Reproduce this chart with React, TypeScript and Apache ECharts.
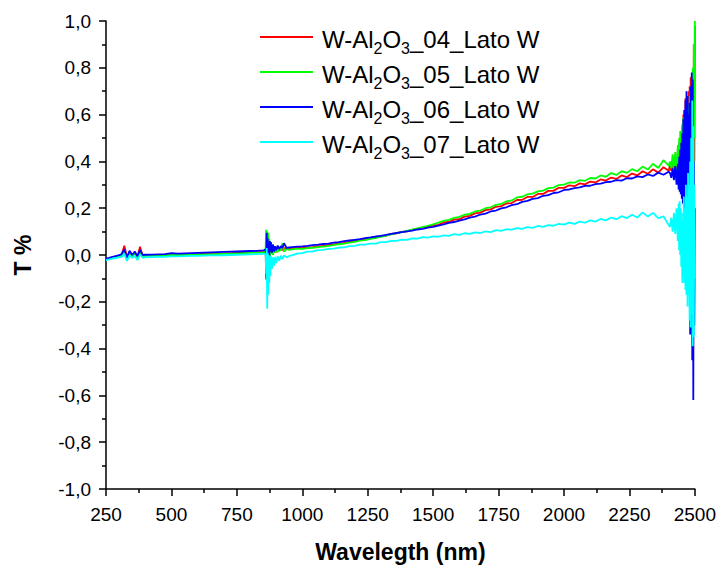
import React, { useEffect, useRef } from "react";
import * as echarts from "echarts";

const seriesNames = [
  "W-Al2O3_04_Lato W",
  "W-Al2O3_05_Lato W",
  "W-Al2O3_06_Lato W",
  "W-Al2O3_07_Lato W",
];
const seriesColors = ["#FF0000", "#00FF00", "#0000FF", "#00FFFF"];

const xTicks = [250, 500, 750, 1000, 1250, 1500, 1750, 2000, 2250, 2500];

// Wavelength (nm)
const wavelengths = [
  250, 262, 275, 290, 300, 310, 320, 330, 340, 350, 360, 370, 380, 390, 400, 425, 450, 475, 500, 525, 550, 575, 600, 625, 650, 675, 700, 725, 750, 775, 800, 825, 850,
  856, 860, 862, 864, 866, 868, 870, 872, 874, 876, 878, 880, 884, 888, 892, 896, 900, 906, 912, 918, 924, 930, 940, 950,
  960, 980, 1000, 1020, 1040, 1060, 1080, 1100, 1120, 1140, 1160, 1180, 1200, 1220, 1240, 1260, 1280, 1300, 1320, 1340, 1360, 1380, 1400, 1420, 1440, 1460, 1480, 1500, 1520, 1540, 1560, 1580, 1600, 1620, 1640, 1660, 1680, 1700, 1720, 1740, 1760, 1780, 1800, 1820, 1840, 1860, 1880, 1900, 1920, 1940, 1960, 1980, 2000, 2020, 2040, 2060, 2080, 2100, 2120, 2140, 2160, 2180, 2200, 2220, 2240, 2260, 2280, 2300, 2320, 2340, 2360, 2380, 2400,
  2405, 2410, 2415, 2420, 2425, 2430, 2435, 2438, 2440, 2442, 2444, 2446, 2448, 2450, 2452, 2454, 2456, 2458, 2460, 2462, 2464, 2466, 2468, 2470, 2472, 2474, 2476, 2478, 2480, 2482, 2484, 2486, 2488, 2490, 2492, 2494, 2496, 2498, 2500,
];

const t04 = [
  -0.018, -0.015, -0.010, -0.006, -0.004, 0.002, 0.040, -0.008, 0.012, -0.002, 0.008, -0.010, 0.035, -0.004, -0.002, -0.001, 0.000, 0.000, 0.002, 0.002, 0.003, 0.004, 0.004, 0.005, 0.006, 0.006, 0.007, 0.008, 0.009, 0.010, 0.011, 0.012, 0.013,
  0.014, 0.020, -0.105, 0.060, -0.050, 0.080, -0.030, 0.050, -0.020, 0.060, 0.010, 0.040, 0.005, 0.035, 0.010, 0.030, 0.012, 0.030, 0.018, 0.032, 0.020, 0.030, 0.024, 0.027,
  0.027, 0.031, 0.029, 0.033, 0.034, 0.038, 0.039, 0.043, 0.045, 0.050, 0.052, 0.057, 0.059, 0.065, 0.067, 0.073, 0.075, 0.081, 0.083, 0.090, 0.092, 0.099, 0.101, 0.108, 0.111, 0.118, 0.120, 0.127, 0.129, 0.139, 0.141, 0.151, 0.153, 0.164, 0.167, 0.178, 0.181, 0.192, 0.195, 0.206, 0.209, 0.220, 0.222, 0.235, 0.236, 0.248, 0.248, 0.261, 0.261, 0.274, 0.274, 0.287, 0.287, 0.298, 0.294, 0.306, 0.302, 0.314, 0.310, 0.323, 0.318, 0.331, 0.325, 0.340, 0.333, 0.348, 0.340, 0.358, 0.347, 0.366, 0.352, 0.375, 0.360,
  0.385, 0.36, 0.40, 0.35, 0.42, 0.33, 0.45, 0.30, 0.48, 0.32, 0.50, 0.28, 0.52, 0.30, 0.55, 0.24, 0.60, 0.27, 0.62, 0.30, 0.67, 0.25, 0.66, 0.20, 0.65, 0.15, 0.70, 0.10, 0.72, 0.05, 0.76, 0.00, 0.74, -0.10, 0.70, 0.20, 0.90, 0.40, 0.98,
];

const t05 = [
  -0.020, -0.016, -0.012, -0.008, -0.005, -0.002, 0.020, -0.020, 0.008, -0.006, 0.010, -0.015, 0.015, -0.008, -0.004, -0.003, -0.002, -0.002, 0.000, 0.000, 0.001, 0.002, 0.002, 0.003, 0.004, 0.004, 0.005, 0.006, 0.007, 0.008, 0.009, 0.010, 0.011,
  0.012, 0.030, 0.108, -0.030, 0.100, -0.040, 0.095, 0.000, 0.070, -0.010, 0.050, 0.005, 0.040, 0.000, 0.030, 0.010, 0.028, 0.012, 0.030, 0.018, 0.050, 0.015, 0.026, 0.022,
  0.024, 0.027, 0.026, 0.029, 0.031, 0.034, 0.036, 0.039, 0.042, 0.046, 0.049, 0.053, 0.056, 0.061, 0.064, 0.069, 0.072, 0.078, 0.083, 0.088, 0.093, 0.098, 0.103, 0.108, 0.114, 0.119, 0.125, 0.131, 0.138, 0.146, 0.150, 0.159, 0.163, 0.172, 0.176, 0.186, 0.190, 0.200, 0.204, 0.214, 0.218, 0.229, 0.233, 0.246, 0.249, 0.259, 0.262, 0.272, 0.275, 0.286, 0.288, 0.299, 0.301, 0.310, 0.309, 0.320, 0.317, 0.329, 0.327, 0.340, 0.334, 0.350, 0.342, 0.358, 0.351, 0.367, 0.358, 0.378, 0.365, 0.390, 0.372, 0.405, 0.382,
  0.40, 0.37, 0.43, 0.36, 0.44, 0.34, 0.47, 0.31, 0.50, 0.29, 0.53, 0.30, 0.50, 0.26, 0.56, 0.28, 0.59, 0.24, 0.55, 0.28, 0.60, 0.22, 0.58, 0.20, 0.62, 0.18, 0.64, 0.15, 0.68, 0.10, 0.70, 0.05, 0.72, 0.00, 0.80, 0.30, 0.90, 0.50, 1.00,
];

const t06 = [
  -0.015, -0.012, -0.008, -0.004, -0.001, 0.004, 0.025, -0.012, 0.018, 0.000, 0.015, -0.006, 0.022, 0.000, 0.001, 0.002, 0.003, 0.004, 0.008, 0.006, 0.007, 0.008, 0.009, 0.010, 0.011, 0.012, 0.013, 0.014, 0.015, 0.016, 0.017, 0.018, 0.020,
  0.021, 0.025, -0.040, 0.095, -0.020, 0.070, -0.025, 0.040, -0.005, 0.060, 0.015, 0.055, 0.010, 0.045, 0.015, 0.038, 0.020, 0.040, 0.025, 0.038, 0.030, 0.050, 0.030, 0.033,
  0.034, 0.036, 0.037, 0.039, 0.042, 0.044, 0.047, 0.049, 0.053, 0.055, 0.059, 0.062, 0.065, 0.068, 0.072, 0.075, 0.079, 0.082, 0.086, 0.090, 0.094, 0.098, 0.101, 0.104, 0.109, 0.112, 0.117, 0.120, 0.126, 0.131, 0.137, 0.141, 0.147, 0.152, 0.160, 0.164, 0.173, 0.177, 0.186, 0.190, 0.199, 0.204, 0.213, 0.217, 0.227, 0.231, 0.240, 0.243, 0.253, 0.256, 0.265, 0.268, 0.278, 0.280, 0.286, 0.289, 0.295, 0.296, 0.303, 0.305, 0.311, 0.313, 0.320, 0.318, 0.328, 0.327, 0.336, 0.333, 0.344, 0.338, 0.352, 0.343, 0.356,
  0.35, 0.33, 0.37, 0.32, 0.38, 0.30, 0.39, 0.28, 0.42, 0.27, 0.45, 0.26, 0.48, 0.24, 0.52, 0.22, 0.58, 0.20, 0.62, 0.18, 0.66, 0.15, 0.70, 0.10, 0.68, 0.00, 0.60, -0.10, 0.65, -0.34, 0.72, -0.20, 0.78, -0.45, 0.75, -0.62, 0.40, -0.30, 0.20,
];

const t07 = [
  -0.022, -0.019, -0.015, -0.012, -0.010, -0.008, 0.005, -0.025, -0.002, -0.012, -0.004, -0.022, 0.002, -0.012, -0.010, -0.009, -0.008, -0.008, -0.006, -0.006, -0.005, -0.004, -0.004, -0.003, -0.002, -0.002, -0.001, 0.000, 0.001, 0.002, 0.003, 0.004, 0.005,
  0.005, 0.000, -0.080, 0.030, -0.230, 0.010, -0.170, 0.000, -0.120, -0.010, -0.090, -0.005, -0.060, -0.010, -0.045, -0.008, -0.035, -0.005, -0.025, -0.003, -0.018, -0.002, -0.010, -0.004,
  -0.002, 0.006, 0.008, 0.014, 0.015, 0.021, 0.022, 0.026, 0.027, 0.032, 0.033, 0.038, 0.039, 0.044, 0.044, 0.049, 0.049, 0.055, 0.055, 0.060, 0.060, 0.066, 0.065, 0.071, 0.070, 0.076, 0.074, 0.080, 0.078, 0.084, 0.082, 0.089, 0.086, 0.093, 0.090, 0.097, 0.094, 0.101, 0.098, 0.106, 0.103, 0.110, 0.108, 0.115, 0.112, 0.119, 0.116, 0.124, 0.120, 0.128, 0.125, 0.133, 0.130, 0.138, 0.133, 0.143, 0.138, 0.148, 0.143, 0.154, 0.148, 0.160, 0.153, 0.166, 0.158, 0.172, 0.160, 0.182, 0.165, 0.180, 0.158, 0.165, 0.128,
  0.12, 0.16, 0.10, 0.18, 0.09, 0.20, 0.06, 0.22, 0.02, 0.23, 0.00, 0.20, -0.05, 0.18, -0.12, 0.15, -0.08, 0.25, -0.12, 0.20, -0.15, 0.30, -0.17, 0.25, -0.22, 0.35, -0.17, 0.30, -0.28, 0.40, -0.31, 0.50, -0.25, 0.66, -0.39, 0.55, -0.35, 0.30, -0.10,
];

const seriesValues = [t04, t05, t06, t07];

const FONT = "'Liberation Sans', Arial, Helvetica, sans-serif";

function legendLabel(name: string): string {
  const m = name.match(/^W-Al2O3(.*)$/);
  if (!m) return `{m|${name}}`;
  return `{m|W-Al}{s|2}{m|O}{s|3}{m|${m[1]}}`;
}

export default function App() {
  const ref = useRef<HTMLDivElement>(null);

  useEffect(() => {
    if (!ref.current) return;
    const chart = echarts.init(ref.current, undefined, { renderer: "svg" });

    const series = seriesNames.map((name, i) => ({
      name,
      type: "line",
      showSymbol: false,
      symbol: "none",
      color: seriesColors[i],
      lineStyle: { width: 1.8, color: seriesColors[i] },
      data: wavelengths.map((w, k) => [w, seriesValues[i][k]]),
      z: 2 + i,
    }));

    chart.setOption({
      animation: false,
      backgroundColor: "#ffffff",
      textStyle: { fontFamily: FONT },
      grid: { left: 106, right: 23, top: 21, bottom: 73, containLabel: false },
      legend: {
        orient: "vertical",
        left: 260,
        top: 24,
        padding: 0,
        itemGap: 3,
        itemWidth: 53,
        itemHeight: 2,
        icon: "rect",
        selectedMode: false,
        formatter: legendLabel,
        textStyle: {
          fontFamily: FONT,
          color: "#000",
          padding: [0, 0, 0, 4],
          rich: {
            m: { fontSize: 24, lineHeight: 26, fontFamily: FONT, color: "#000", verticalAlign: "top", padding: [3, 0, 0, 0] },
            s: { fontSize: 16, lineHeight: 16, fontFamily: FONT, color: "#000", verticalAlign: "top", padding: [16, 0, 0, 0] },
          },
        },
        data: seriesNames,
      },
      xAxis: {
        type: "value",
        min: xTicks[0],
        max: xTicks[xTicks.length - 1],
        interval: 250,
        name: "Wavelegth (nm)",
        nameLocation: "middle",
        nameGap: 51,
        nameTextStyle: { fontFamily: FONT, fontWeight: "bold", fontSize: 23, color: "#000" },
        axisLine: { show: true, onZero: false, lineStyle: { color: "#000", width: 1.5 } },
        axisTick: { show: true, inside: false, length: 7, lineStyle: { color: "#000", width: 1.5 } },
        minorTick: { show: true, splitNumber: 2, length: 4, lineStyle: { color: "#000", width: 1.5 } },
        splitLine: { show: false },
        axisLabel: {
          fontFamily: FONT,
          fontSize: 19,
          color: "#000",
          margin: 16,
          formatter: (v: number) => String(Math.round(v)),
        },
      },
      yAxis: {
        type: "value",
        min: -1,
        max: 1,
        interval: 0.2,
        name: "T %",
        nameLocation: "middle",
        nameGap: 72,
        nameRotate: 90,
        nameTextStyle: { fontFamily: FONT, fontWeight: "bold", fontSize: 23, color: "#000" },
        axisLine: { show: true, onZero: false, lineStyle: { color: "#000", width: 1.5 } },
        axisTick: { show: true, inside: false, length: 7, lineStyle: { color: "#000", width: 1.5 } },
        minorTick: { show: true, splitNumber: 2, length: 4, lineStyle: { color: "#000", width: 1.5 } },
        splitLine: { show: false },
        axisLabel: {
          fontFamily: FONT,
          fontSize: 19,
          color: "#000",
          margin: 15,
          formatter: (v: number) => (Math.abs(v) < 1e-9 ? "0,0" : v.toFixed(1).replace(".", ",")),
        },
      },
      series,
    });

    return () => chart.dispose();
  }, []);

  return (
    <div
      ref={ref}
      style={{ position: "fixed", left: 0, top: 0, width: 719, height: 568, background: "#fff" }}
    />
  );
}
